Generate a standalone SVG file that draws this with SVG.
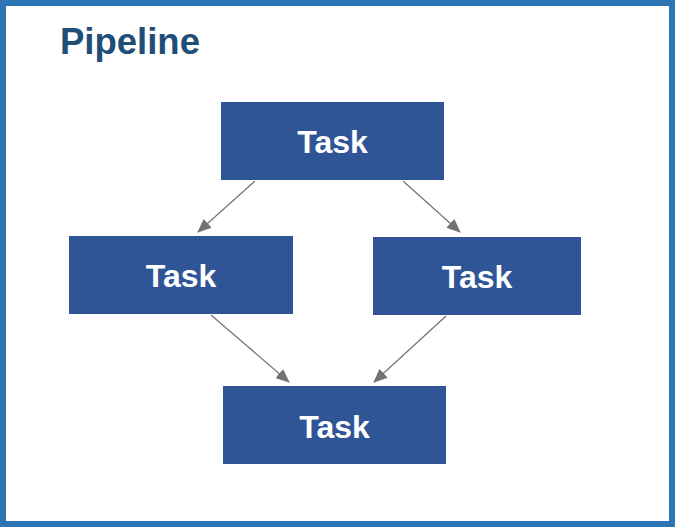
<svg xmlns="http://www.w3.org/2000/svg" width="675" height="527" viewBox="0 0 675 527">
<style>
.box{fill:#2F5597;}
.lbl{font-family:"Liberation Sans",Arial,sans-serif;font-weight:bold;font-size:32px;fill:#FFFFFF;text-anchor:middle;}
.title{font-family:"Liberation Sans",Arial,sans-serif;font-weight:bold;font-size:36.5px;fill:#1F4E79;}
.edge{stroke:#767171;stroke-width:1.2;fill:none;marker-end:url(#ah);}
</style>
<defs>
<marker id="ah" markerWidth="14" markerHeight="12" refX="13" refY="6" orient="auto" markerUnits="userSpaceOnUse">
<path d="M0,0 L14,6 L0,12 Z" fill="#767171"/>
</marker>
</defs>
<rect x="0" y="0" width="675" height="527" fill="#FFFFFF"/>
<rect x="3" y="3" width="669" height="521" fill="none" stroke="#2E75B6" stroke-width="6"/>
<text class="title" x="60" y="54">Pipeline</text>
<g id="connectors">
<line class="edge" x1="255" y1="181" x2="198" y2="232"/>
<line class="edge" x1="403" y1="181" x2="460" y2="232"/>
<line class="edge" x1="211" y1="315" x2="289" y2="382"/>
<line class="edge" x1="446" y1="316" x2="374" y2="382"/>
</g>
<g id="task-top">
<rect class="box" x="221" y="102" width="223" height="78"/>
<text class="lbl" x="332.5" y="153">Task</text>
</g>
<g id="task-left">
<rect class="box" x="69" y="236" width="224" height="78"/>
<text class="lbl" x="181" y="287">Task</text>
</g>
<g id="task-right">
<rect class="box" x="373" y="237" width="208" height="78"/>
<text class="lbl" x="477" y="288">Task</text>
</g>
<g id="task-bottom">
<rect class="box" x="223" y="386" width="223" height="78"/>
<text class="lbl" x="334.5" y="438">Task</text>
</g>
</svg>
